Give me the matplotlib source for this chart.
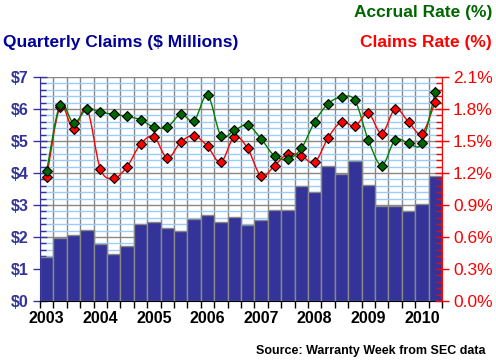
import matplotlib
matplotlib.use("Agg")
import matplotlib.pyplot as plt
from matplotlib.path import Path
from matplotlib.patches import PathPatch
from matplotlib.ticker import MultipleLocator, FixedLocator, NullFormatter
import numpy as np

plt.rcParams['font.family'] = ['Liberation Sans', 'DejaVu Sans']

years = ['2003', '2004', '2005', '2006', '2007', '2008', '2009', '2010']

# quarterly claims, $ millions, 2003Q1 .. 2010Q2
claims = [1.39, 1.96, 2.07, 2.22, 1.78, 1.47, 1.72, 2.41,
          2.47, 2.28, 2.19, 2.57, 2.69, 2.47, 2.64, 2.36,
          2.53, 2.85, 2.85, 3.58, 3.40, 4.22, 3.97, 4.38,
          3.63, 2.98, 2.98, 2.82, 3.03, 3.91]

# accrual rate, %
accrual = [1.22, 1.84, 1.67, 1.80, 1.77, 1.75, 1.73, 1.70,
           1.63, 1.63, 1.75, 1.69, 1.93, 1.55, 1.60, 1.65,
           1.52, 1.36, 1.33, 1.43, 1.68, 1.85, 1.91, 1.88,
           1.51, 1.27, 1.51, 1.48, 1.48, 1.96]

# claims rate, %
claims_rate = [1.16, 1.82, 1.61, 1.80, 1.24, 1.15, 1.26, 1.47,
               1.54, 1.34, 1.49, 1.55, 1.45, 1.30, 1.54, 1.43,
               1.17, 1.27, 1.38, 1.36, 1.30, 1.53, 1.68, 1.64,
               1.76, 1.57, 1.80, 1.68, 1.57, 1.87]

n = len(claims)
x = np.arange(n) + 0.5


def smooth_path(xs, ys, t=1/6):
    # catmull-rom through the points, as bezier segments
    pts = np.column_stack([xs, ys])
    verts = [pts[0]]
    codes = [Path.MOVETO]
    for i in range(len(pts) - 1):
        p0 = pts[i - 1] if i > 0 else pts[i]
        p1 = pts[i]
        p2 = pts[i + 1]
        p3 = pts[i + 2] if i + 2 < len(pts) else pts[i + 1]
        c1 = p1 + (p2 - p0) * t
        c2 = p2 - (p3 - p1) * t
        verts += [c1, c2, p2]
        codes += [Path.CURVE4] * 3
    return Path(verts, codes)


fig = plt.figure(figsize=(4.96, 3.63), dpi=100)
ax = fig.add_axes([40/496, 62/363, 402/496, 224/363])

navy = '#333399'
ax.bar(x, claims, width=1.0, color=navy, edgecolor='#888888', linewidth=1, zorder=2)
ax.set_xlim(0, n)
ax.set_ylim(0, 7)

ax.yaxis.set_major_locator(MultipleLocator(1))
ax.yaxis.set_minor_locator(MultipleLocator(0.2))
ax.yaxis.set_major_formatter(plt.FuncFormatter(lambda v, p: '$%d' % v))
ax.grid(which='minor', axis='y', color='#99ccff', linewidth=1, zorder=0)
ax.grid(which='major', axis='y', color='#888888', linewidth=1, zorder=0)

ax.xaxis.set_major_locator(FixedLocator(np.arange(n + 1)))
ax.xaxis.set_major_formatter(NullFormatter())
ax.xaxis.set_minor_locator(FixedLocator(np.arange(len(years)) * 4 + 0.5))
ax.set_xticklabels(years, minor=True)
ax.grid(which='major', axis='x', color='#888888', linewidth=1, zorder=0)
ax.set_axisbelow(True)

ax.tick_params(axis='x', which='major', direction='out', length=5, width=1, color='black')
ax.tick_params(axis='x', which='minor', length=0, pad=7, labelsize=11.5)
for lab in ax.get_xticklabels(minor=True):
    lab.set_fontweight('bold')
ax.tick_params(axis='y', which='major', direction='inout', length=10, width=1,
               color=navy, labelcolor=navy, labelsize=11.5, pad=3)
ax.tick_params(axis='y', which='minor', direction='in', length=4, width=1, color=navy)
for lab in ax.get_yticklabels():
    lab.set_fontweight('bold')

ax.spines['left'].set_color(navy)
ax.spines['bottom'].set_color('black')
ax.spines['top'].set_visible(False)
ax.spines['right'].set_visible(False)

ax2 = ax.twinx()
ax2.set_ylim(0, 2.1)
ax2.yaxis.set_major_locator(MultipleLocator(0.3))
ax2.yaxis.set_minor_locator(MultipleLocator(0.06))
ax2.yaxis.set_major_formatter(plt.FuncFormatter(lambda v, p: '%.1f%%' % v))
ax2.tick_params(axis='y', which='major', direction='inout', length=10, width=1,
                color='red', labelcolor='red', labelsize=12.5, pad=3)
ax2.tick_params(axis='y', which='minor', direction='in', length=4, width=1, color='red')
ax2.spines['right'].set_color('red')
for s in ['left', 'top', 'bottom']:
    ax2.spines[s].set_visible(False)

ax2.add_patch(PathPatch(smooth_path(x, claims_rate), facecolor='none',
                        edgecolor='red', linewidth=1.0, zorder=3))
ax2.add_patch(PathPatch(smooth_path(x, accrual), facecolor='none',
                        edgecolor='#008000', linewidth=1.0, zorder=3))
ax2.plot(x, claims_rate, linestyle='none', marker='D', markersize=5.5,
         markerfacecolor='red', markeredgecolor='black', markeredgewidth=0.8, zorder=4)
ax2.plot(x, accrual, linestyle='none', marker='D', markersize=5.5,
         markerfacecolor='#006600', markeredgecolor='black', markeredgewidth=0.8, zorder=5)

fig.text(3/496, 1 - 42/363, 'Quarterly Claims ($ Millions)', color='#000099',
         fontsize=12.5, fontweight='bold', va='center', ha='left')
fig.text(492/496, 1 - 12/363, 'Accrual Rate (%)', color='#006600',
         fontsize=12.5, fontweight='bold', va='center', ha='right')
fig.text(492/496, 1 - 42/363, 'Claims Rate (%)', color='red',
         fontsize=12.5, fontweight='bold', va='center', ha='right')
fig.text(485/496, 1 - 351/363, 'Source: Warranty Week from SEC data', color='black',
         fontsize=9, fontweight='bold', va='center', ha='right')

fig.savefig('out.png', dpi=100)
